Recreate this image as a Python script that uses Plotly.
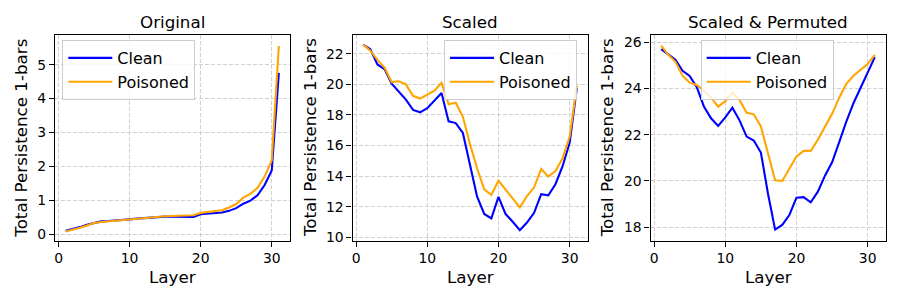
import plotly.graph_objects as go

layers = list(range(1, 32))

orig_clean = [0.10, 0.15, 0.21, 0.28, 0.34, 0.38, 0.39, 0.40, 0.41, 0.44, 0.46, 0.48, 0.48, 0.51, 0.52, 0.52,
              0.52, 0.51, 0.51, 0.59, 0.60, 0.63, 0.64, 0.69, 0.77, 0.90, 0.99, 1.15, 1.45, 1.88, 4.76]
orig_poison = [0.08, 0.13, 0.19, 0.26, 0.33, 0.36, 0.38, 0.39, 0.41, 0.44, 0.46, 0.48, 0.49, 0.53, 0.53, 0.54,
               0.54, 0.56, 0.56, 0.63, 0.66, 0.69, 0.71, 0.79, 0.89, 1.08, 1.19, 1.37, 1.70, 2.18, 5.55]

scaled_clean = [22.6, 22.3, 21.3, 21.0, 20.05, 19.5, 19.0, 18.33, 18.17, 18.44, 18.9, 19.43, 17.58, 17.47,
                16.82, 14.7, 12.66, 11.53, 11.24, 12.64, 11.52, 11.02, 10.47, 10.97, 11.6, 12.82, 12.75,
                13.47, 14.65, 16.2, 19.75]
scaled_poison = [22.6, 22.2, 21.6, 21.1, 20.15, 20.2, 20.0, 19.25, 19.07, 19.32, 19.58, 20.1, 18.7, 18.8,
                 17.88, 16.1, 14.5, 13.14, 12.77, 13.7, 13.1, 12.5, 11.96, 12.7, 13.27, 14.47, 13.97, 14.34,
                 15.17, 16.6, 19.9]

perm_clean = [25.7, 25.45, 25.24, 24.76, 24.54, 24.05, 23.22, 22.71, 22.38, 22.75, 23.17, 22.62, 21.92, 21.75,
              21.23, 19.45, 17.9, 18.1, 18.53, 19.28, 19.3, 19.08, 19.54, 20.23, 20.81, 21.68, 22.57, 23.36,
              24.04, 24.73, 25.35]
perm_poison = [25.85, 25.45, 25.15, 24.55, 24.25, 24.15, 23.9, 23.6, 23.21, 23.45, 23.82, 23.5, 22.95, 22.88,
               22.36, 21.15, 20.03, 20.0, 20.5, 21.06, 21.3, 21.3, 21.78, 22.36, 22.9, 23.6, 24.2, 24.55,
               24.8, 25.05, 25.45]

titles = ["Original", "Scaled", "Scaled & Permuted"]
series_names = ["Clean", "Poisoned"]
colors = ["#0000ff", "#ffa500"]

panels = [(orig_clean, orig_poison), (scaled_clean, scaled_poison), (perm_clean, perm_poison)]
yranges = [[-0.19, 5.89], [9.78, 23.26], [17.42, 26.33]]
ydtick = [1, 2, 2]
ytick0 = [0, 10, 18]

# page has an 8px body margin: the figure paper starts at (8, 8) on the page
OFF = 8
W, H = 900 - OFF, 300 - OFF
xpix = [(55, 289.5), (352.5, 587.5), (650.5, 885.5)]
ytop, ybot = 34.5, 240.7
legend_pos = [62.3, 444, 700.7]
ylab_x = [20.7, 310, 607.3]


def px(x):
    return (x - OFF) / W


def py(y):
    return 1 - (y - OFF) / H


FONT = "DejaVu Sans"
fig = go.Figure()

for i, (clean, poison) in enumerate(panels):
    ax = "" if i == 0 else str(i + 1)
    lg = "legend" if i == 0 else f"legend{i + 1}"
    for name, vals, col in zip(series_names, (clean, poison), colors):
        fig.add_trace(go.Scatter(
            x=layers, y=vals, mode="lines", name=name,
            line=dict(color=col, width=2.1),
            xaxis="x" + ax, yaxis="y" + ax, legend=lg,
        ))
    common = dict(showline=True, linecolor="black", linewidth=1.1, mirror=True,
                  ticks="outside", ticklen=5, tickwidth=1.1, tickcolor="black",
                  showgrid=True, gridcolor="#d0d0d0", griddash="4px,2px", gridwidth=0.8,
                  zeroline=False, tickfont=dict(family=FONT, size=13.9, color="black"))
    fig.layout["xaxis" + ax] = dict(
        domain=[px(xpix[i][0]), px(xpix[i][1])], range=[-0.5, 32.5],
        tick0=0, dtick=10, anchor="y" + ax, **common)
    fig.layout["yaxis" + ax] = dict(
        domain=[py(ybot), py(ytop)], range=yranges[i],
        tick0=ytick0[i], dtick=ydtick[i], anchor="x" + ax, **common)
    fig.layout[lg] = dict(
        x=px(legend_pos[i]), y=py(40), xanchor="left", yanchor="top",
        xref="paper", yref="paper", itemwidth=44,
        bgcolor="rgba(255,255,255,0.8)", bordercolor="#cccccc", borderwidth=1,
        font=dict(family=FONT, size=16, color="black"))
    cx = px((xpix[i][0] + xpix[i][1]) / 2)
    fig.add_annotation(text=titles[i], x=cx, y=py(21.7), xref="paper", yref="paper",
                       showarrow=False, xanchor="center", yanchor="middle",
                       font=dict(family=FONT, size=16.7, color="black"))
    fig.add_annotation(text="Layer", x=cx, y=py(276.7), xref="paper", yref="paper",
                       showarrow=False, xanchor="center", yanchor="middle",
                       font=dict(family=FONT, size=16.7, color="black"))
    fig.add_annotation(text="Total Persistence 1-bars", x=px(ylab_x[i]), y=py(138),
                       xref="paper", yref="paper", textangle=-90,
                       showarrow=False, xanchor="center", yanchor="middle",
                       font=dict(family=FONT, size=16.7, color="black"))

fig.update_layout(width=W, height=H, margin=dict(l=0, r=0, t=0, b=0, autoexpand=False),
                  paper_bgcolor="white", plot_bgcolor="white", showlegend=True)

fig.write_html("out.html")
